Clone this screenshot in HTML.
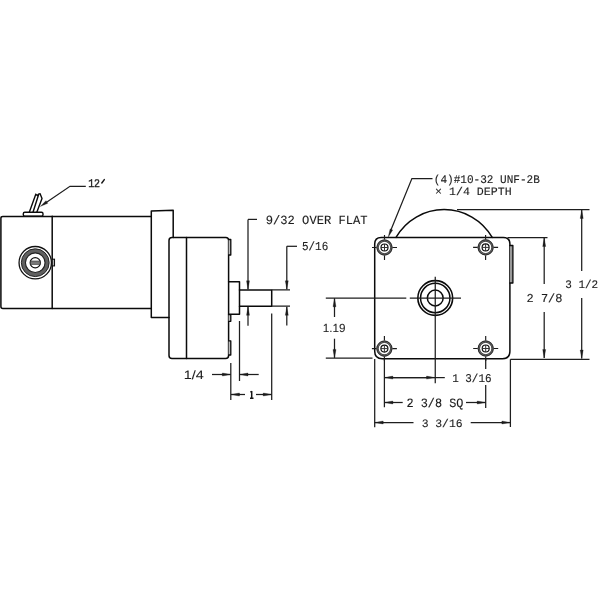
<!DOCTYPE html>
<html><head><meta charset="utf-8">
<style>
html,body{margin:0;padding:0;background:#fff;width:600px;height:600px;overflow:hidden}
svg{display:block}
text{fill:#1c1c1c;stroke:#1c1c1c;stroke-width:0.12}
svg{will-change:transform}
.o{fill:none;stroke:#0a0a0a;stroke-width:1.5;stroke-linejoin:round;stroke-linecap:round}
.d{fill:none;stroke:#1e1e1e;stroke-width:1.25}
.a{fill:#1a1a1a;stroke:#1a1a1a;stroke-width:0.3}
</style></head>
<body>
<svg width="600" height="600" viewBox="0 0 600 600">

<path class="o" style="stroke-width:1.4" d="M29.3 212.2 L35.8 194.3 M33 212.2 L38.8 194 M36.8 212.2 L42 198.5 L40 193.6 M35.8 194.3 L37.3 195.5 L38.8 194"/>
<rect x="23.3" y="212.3" width="19.7" height="3.9" rx="1.5" class="o" style="stroke-width:1.4"/>
<path class="o" d="M151.3 216.4 H2.8 Q0.9 216.4 0.9 218.3 V306.5 Q0.9 308.5 2.9 308.5 H151.3"/>
<path class="o" d="M52.2 216.3 V308.6"/>
<rect x="52.2" y="259.2" width="2.3" height="6.7" fill="#bbb" stroke="#111" stroke-width="1.1"/>
<circle cx="35.25" cy="262.7" r="16.2" fill="none" stroke="#111" stroke-width="1.3"/>
<circle cx="35.25" cy="262.7" r="11.8" fill="none" stroke="#606060" stroke-width="4.2"/>
<circle cx="35.25" cy="262.7" r="13.9" fill="none" stroke="#222" stroke-width="1.0"/>
<circle cx="35.25" cy="262.7" r="9.8" fill="none" stroke="#222" stroke-width="1.1"/>
<circle cx="35.25" cy="262.7" r="5.1" fill="none" stroke="#111" stroke-width="1.2"/>
<rect x="30.4" y="261.0" width="9.7" height="3.4" fill="#777" stroke="#333" stroke-width="0.6"/>
<path class="o" d="M151.3 216.3 V211 L173.2 210.2 V237.5 M151.3 216.3 V317.5 H169"/>
<path class="o" d="M172 237.5 H225.8 Q228.6 237.5 228.6 240.3 V355.6 Q228.6 358.6 225.6 358.6 H172 Q169 358.6 169 355.6 V240.5 Q169 237.5 172 237.5 Z"/>
<path class="o" d="M186.5 237.5 V358.6"/>
<path class="o" style="stroke-width:1.3;fill:#bbb" d="M228.6 239.5 H230.8 V255 H228.6 M228.6 314.7 H230.8 V321.3 H228.6 M228.6 340.8 H230.8 V355 H228.6"/>
<path class="o" d="M228.6 281.8 H239.5 V314.2 H228.6"/>
<path class="o" d="M239.5 290 H271.7 V306.2 H239.5"/>
<path class="d" d="M271.7 289.8 H290 M271.7 306.2 H290"/>
<path class="d" d="M257 219.4 H248"/>
<path class="d" d="M248.00 219.40 L248.00 289.30"/>
<path class="a" d="M248.00 289.30 L246.50 280.80 L249.50 280.80 Z"/>
<path class="d" d="M248.00 325.80 L248.00 306.80"/>
<path class="a" d="M248.00 306.80 L249.50 315.30 L246.50 315.30 Z"/>
<path class="d" d="M297 246.3 H286.8"/>
<path class="d" d="M286.80 246.30 L286.80 289.30"/>
<path class="a" d="M286.80 289.30 L285.30 280.80 L288.30 280.80 Z"/>
<path class="d" d="M286.80 325.50 L286.80 306.80"/>
<path class="a" d="M286.80 306.80 L288.30 315.30 L285.30 315.30 Z"/>
<path class="d" d="M230.8 363 V400 M239.5 321 V381 M271.7 313.5 V400"/>
<path class="d" d="M212.00 374.50 L230.80 374.50"/>
<path class="a" d="M230.80 374.50 L222.30 376.00 L222.30 373.00 Z"/>
<path class="d" d="M258.70 374.50 L239.50 374.50"/>
<path class="a" d="M239.50 374.50 L248.00 373.00 L248.00 376.00 Z"/>
<path class="d" d="M245.00 394.50 L231.00 394.50"/>
<path class="a" d="M231.00 394.50 L239.50 393.00 L239.50 396.00 Z"/>
<path class="d" d="M256.00 394.50 L271.70 394.50"/>
<path class="a" d="M271.70 394.50 L263.20 396.00 L263.20 393.00 Z"/>
<path class="d" d="M85.8 186.3 H70 L44 204"/>
<path class="a" d="M40.25 206.50 L45.97 200.68 L47.77 203.33 Z"/>
<path d="M101.8 183 L104.3 179.6" stroke="#1a1a1a" stroke-width="1.5" stroke-linecap="round"/>
<path d="M251.7 391.0 V398.2 M250.0 398.3 H253.5 M251.7 391.2 L250.5 392.4" stroke="#141414" stroke-width="1.5" fill="none"/>
<path class="o" d="M396 237.4 A55.5 55.5 0 0 1 492.2 237.4"/>
<path class="d" d="M457 209.5 H589.5"/>
<path class="o" d="M381.5 237.4 H503.3 Q509.9 237.4 509.9 244 V351.2 Q509.9 358.7 502.4 358.7 H382.2 Q374.7 358.7 374.7 351.2 V244 Q374.7 237.4 381.2 237.4 Z"/>
<path class="o" style="stroke-width:1.3;fill:#999" d="M509.9 245.5 H512.9 V283 H509.9"/>
<g transform="translate(384.5 247.5)">
  <circle r="6.9" fill="none" stroke="#6a6a6a" stroke-width="2.3"/>
  <circle r="7.55" fill="none" stroke="#2a2a2a" stroke-width="1.0"/>
  <circle r="6.15" fill="none" stroke="#3a3a3a" stroke-width="0.7"/>
  <circle r="3.5" fill="none" stroke="#111" stroke-width="1.2"/>
  <path d="M-3.5 0H3.5M0 -3.5V3.5" stroke="#333" stroke-width="1.0"/>
  <path d="M-12.5 0H-8.0M8.0 0H12.5M0 -12.5V-8.0M0 8.0V12.5" stroke="#1a1a1a" stroke-width="1.15"/>
</g>
<g transform="translate(485.6 247.4)">
  <circle r="6.9" fill="none" stroke="#6a6a6a" stroke-width="2.3"/>
  <circle r="7.55" fill="none" stroke="#2a2a2a" stroke-width="1.0"/>
  <circle r="6.15" fill="none" stroke="#3a3a3a" stroke-width="0.7"/>
  <circle r="3.5" fill="none" stroke="#111" stroke-width="1.2"/>
  <path d="M-3.5 0H3.5M0 -3.5V3.5" stroke="#333" stroke-width="1.0"/>
  <path d="M-12.5 0H-8.0M8.0 0H12.5M0 -12.5V-8.0M0 8.0V12.5" stroke="#1a1a1a" stroke-width="1.15"/>
</g>
<g transform="translate(384.4 348.6)">
  <circle r="6.9" fill="none" stroke="#6a6a6a" stroke-width="2.3"/>
  <circle r="7.55" fill="none" stroke="#2a2a2a" stroke-width="1.0"/>
  <circle r="6.15" fill="none" stroke="#3a3a3a" stroke-width="0.7"/>
  <circle r="3.5" fill="none" stroke="#111" stroke-width="1.2"/>
  <path d="M-3.5 0H3.5M0 -3.5V3.5" stroke="#333" stroke-width="1.0"/>
  <path d="M-12.5 0H-8.0M8.0 0H12.5M0 -12.5V-8.0M0 8.0V12.5" stroke="#1a1a1a" stroke-width="1.15"/>
</g>
<g transform="translate(485.7 348.5)">
  <circle r="6.9" fill="none" stroke="#6a6a6a" stroke-width="2.3"/>
  <circle r="7.55" fill="none" stroke="#2a2a2a" stroke-width="1.0"/>
  <circle r="6.15" fill="none" stroke="#3a3a3a" stroke-width="0.7"/>
  <circle r="3.5" fill="none" stroke="#111" stroke-width="1.2"/>
  <path d="M-3.5 0H3.5M0 -3.5V3.5" stroke="#333" stroke-width="1.0"/>
  <path d="M-12.5 0H-8.0M8.0 0H12.5M0 -12.5V-8.0M0 8.0V12.5" stroke="#1a1a1a" stroke-width="1.15"/>
</g>
<circle cx="435.25" cy="298" r="17.4" fill="none" stroke="#0a0a0a" stroke-width="1.6"/>
<circle cx="435.25" cy="298" r="14.7" fill="none" stroke="#0a0a0a" stroke-width="1.5"/>
<circle cx="435.25" cy="298" r="7.9" fill="none" stroke="#0a0a0a" stroke-width="1.5"/>
<path class="d" d="M325.8 298 H406.3 M409.8 298 H461 M435.25 276.8 V383.3"/>
<path class="d" d="M507.5 237.5 H547.5"/>
<path class="d" d="M544.20 284.00 L544.20 238.00"/>
<path class="a" d="M544.20 238.00 L545.70 246.50 L542.70 246.50 Z"/>
<path class="d" d="M544.20 312.00 L544.20 358.00"/>
<path class="a" d="M544.20 358.00 L542.70 349.50 L545.70 349.50 Z"/>
<path class="d" d="M581.70 271.00 L581.70 210.00"/>
<path class="a" d="M581.70 210.00 L583.20 218.50 L580.20 218.50 Z"/>
<path class="d" d="M581.70 298.00 L581.70 358.50"/>
<path class="a" d="M581.70 358.50 L580.20 350.00 L583.20 350.00 Z"/>
<path class="d" d="M510.4 359.3 H589.5 M510.4 359.3 V427"/>
<path class="d" d="M325.8 358 H372.5"/>
<path class="d" d="M334.50 317.00 L334.50 298.30"/>
<path class="a" d="M334.50 298.30 L336.00 306.80 L333.00 306.80 Z"/>
<path class="d" d="M334.50 338.70 L334.50 357.90"/>
<path class="a" d="M334.50 357.90 L333.00 349.40 L336.00 349.40 Z"/>
<path class="d" d="M374.7 359 V427.3 M384.4 358.5 V407.3 M485.7 358.5 V369 M485.7 385 V408"/>
<path class="d" d="M426.00 377.60 L384.40 377.60"/>
<path class="a" d="M384.40 377.60 L392.90 376.10 L392.90 379.10 Z"/>
<path class="d" d="M393.00 377.60 L435.00 377.60"/>
<path class="a" d="M435.00 377.60 L426.50 379.10 L426.50 376.10 Z"/>
<path class="d" d="M434.7 377.6 H444.8"/>
<path class="d" d="M402.70 402.50 L384.40 402.50"/>
<path class="a" d="M384.40 402.50 L392.90 401.00 L392.90 404.00 Z"/>
<path class="d" d="M466.00 402.50 L485.70 402.50"/>
<path class="a" d="M485.70 402.50 L477.20 404.00 L477.20 401.00 Z"/>
<path class="d" d="M413.50 422.50 L374.70 422.50"/>
<path class="a" d="M374.70 422.50 L383.20 421.00 L383.20 424.00 Z"/>
<path class="d" d="M470.70 422.50 L510.40 422.50"/>
<path class="a" d="M510.40 422.50 L501.90 424.00 L501.90 421.00 Z"/>
<path class="d" d="M432.5 178.6 H411.9 L390.5 231"/>
<path class="a" d="M388.20 237.30 L390.08 228.89 L392.68 229.94 Z"/>
<text x="88.17" y="187.25" font-size="11.74" textLength="11.92" lengthAdjust="spacingAndGlyphs" text-rendering="geometricPrecision" style="font-family:'Liberation Mono',monospace;stroke-width:0.4" >12</text>
<text x="265.72" y="223.5" font-size="12.5" textLength="101.88" lengthAdjust="spacingAndGlyphs" text-rendering="geometricPrecision" style="font-family:'Liberation Mono',monospace" >9/32 OVER FLAT</text>
<text x="301.98" y="250.0" font-size="12.12" textLength="26.28" lengthAdjust="spacingAndGlyphs" text-rendering="geometricPrecision" style="font-family:'Liberation Mono',monospace" >5/16</text>
<text x="433.81" y="182.75" font-size="11.74" textLength="106.05" lengthAdjust="spacingAndGlyphs" text-rendering="geometricPrecision" style="font-family:'Liberation Mono',monospace" >(4)#10-32 UNF-2B</text>
<text x="435.06" y="195.0" font-size="11.36" textLength="76.57" lengthAdjust="spacingAndGlyphs" text-rendering="geometricPrecision" style="font-family:'Liberation Mono',monospace" >× 1/4 DEPTH</text>
<text x="526.54" y="302.0" font-size="12.12" textLength="35.94" lengthAdjust="spacingAndGlyphs" text-rendering="geometricPrecision" style="font-family:'Liberation Mono',monospace" >2 7/8</text>
<text x="565.25" y="288.0" font-size="11.52" textLength="32.94" lengthAdjust="spacingAndGlyphs" text-rendering="geometricPrecision" style="font-family:'Liberation Mono',monospace" >3 1/2</text>
<text x="452.2" y="382.0" font-size="11.82" textLength="39.38" lengthAdjust="spacingAndGlyphs" text-rendering="geometricPrecision" style="font-family:'Liberation Mono',monospace" >1 3/16</text>
<text x="406.57" y="406.7" font-size="12.73" textLength="56.83" lengthAdjust="spacingAndGlyphs" text-rendering="geometricPrecision" style="font-family:'Liberation Mono',monospace" >2 3/8 SQ</text>
<text x="421.63" y="426.7" font-size="11.36" textLength="40.95" lengthAdjust="spacingAndGlyphs" text-rendering="geometricPrecision" style="font-family:'Liberation Mono',monospace" >3 3/16</text>
<text x="183.73" y="379.2" font-size="12.17" textLength="19.99" lengthAdjust="spacingAndGlyphs" text-rendering="geometricPrecision" style="font-family:'Liberation Sans',sans-serif;stroke-width:0.05" >1/4</text>
<text x="322.83" y="331.9" font-size="11.81" textLength="22.72" lengthAdjust="spacingAndGlyphs" text-rendering="geometricPrecision" style="font-family:'Liberation Sans',sans-serif;stroke-width:0.05" >1.19</text>
</svg>
</body></html>
